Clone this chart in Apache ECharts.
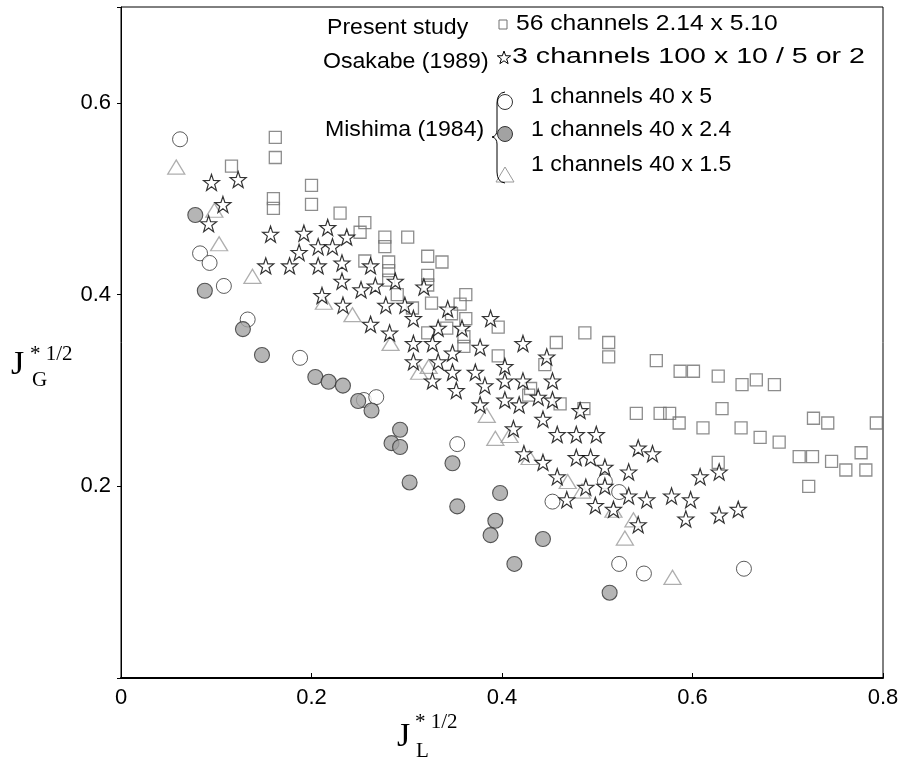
<!DOCTYPE html>
<html>
<head>
<meta charset="utf-8">
<script src="https://cdn.jsdelivr.net/npm/echarts@6/dist/echarts.min.js"></script>
<style>
html, body { margin: 0; padding: 0; background: #fff; }
#chart { width: 915px; height: 767px; }
</style>
</head>
<body>
<div id="chart"></div>
<script>
// [J_L*1/2, J_G*1/2] pairs

// present study, 56 channels 2.14 x 5.10 (squares)
var presentStudy = [
    [0.116, 0.534], [0.162, 0.564], [0.162, 0.543], [0.160, 0.500], [0.160, 0.490],
    [0.200, 0.514], [0.200, 0.494], [0.230, 0.485], [0.256, 0.475], [0.251, 0.465],
    [0.277, 0.460], [0.277, 0.450], [0.301, 0.460], [0.256, 0.435], [0.281, 0.434],
    [0.281, 0.425], [0.281, 0.415], [0.322, 0.440], [0.337, 0.434], [0.322, 0.420],
    [0.322, 0.410], [0.290, 0.400], [0.306, 0.386], [0.326, 0.391], [0.362, 0.400],
    [0.356, 0.390], [0.347, 0.380], [0.362, 0.375], [0.396, 0.366], [0.322, 0.360],
    [0.342, 0.365], [0.360, 0.356], [0.360, 0.346], [0.396, 0.336], [0.445, 0.327],
    [0.430, 0.302], [0.428, 0.295], [0.487, 0.360], [0.457, 0.350], [0.512, 0.350],
    [0.512, 0.335], [0.562, 0.331], [0.587, 0.320], [0.601, 0.320], [0.627, 0.315],
    [0.652, 0.306], [0.667, 0.311], [0.686, 0.306], [0.461, 0.286], [0.486, 0.281],
    [0.541, 0.276], [0.566, 0.276], [0.576, 0.276], [0.586, 0.266], [0.611, 0.261],
    [0.631, 0.281], [0.651, 0.261], [0.671, 0.251], [0.691, 0.246], [0.727, 0.271],
    [0.742, 0.266], [0.793, 0.266], [0.712, 0.231], [0.726, 0.231], [0.746, 0.226],
    [0.777, 0.235], [0.761, 0.217], [0.782, 0.217], [0.722, 0.200], [0.627, 0.225]
];

// Osakabe (1989), 3 channels 100 x 10 / 5 or 2 (stars)
var osakabe = [
    [0.095, 0.517], [0.123, 0.520], [0.107, 0.494], [0.092, 0.474], [0.157, 0.463],
    [0.192, 0.464], [0.217, 0.470], [0.237, 0.460], [0.187, 0.444], [0.207, 0.450],
    [0.222, 0.450], [0.152, 0.430], [0.177, 0.430], [0.207, 0.430], [0.232, 0.433],
    [0.232, 0.414], [0.211, 0.399], [0.233, 0.389], [0.262, 0.430], [0.252, 0.405],
    [0.267, 0.409], [0.288, 0.414], [0.318, 0.408], [0.278, 0.389], [0.298, 0.389],
    [0.262, 0.369], [0.307, 0.375], [0.343, 0.385], [0.282, 0.360], [0.333, 0.365],
    [0.358, 0.365], [0.388, 0.375], [0.307, 0.349], [0.327, 0.349], [0.348, 0.339],
    [0.377, 0.345], [0.422, 0.349], [0.307, 0.330], [0.333, 0.330], [0.348, 0.319],
    [0.372, 0.319], [0.403, 0.325], [0.447, 0.335], [0.327, 0.310], [0.352, 0.300],
    [0.382, 0.305], [0.403, 0.310], [0.422, 0.310], [0.377, 0.285], [0.403, 0.290],
    [0.418, 0.285], [0.438, 0.293], [0.443, 0.270], [0.412, 0.260], [0.453, 0.310],
    [0.453, 0.290], [0.482, 0.279], [0.458, 0.254], [0.478, 0.254], [0.499, 0.254],
    [0.423, 0.234], [0.443, 0.225], [0.478, 0.230], [0.493, 0.230], [0.543, 0.240],
    [0.558, 0.234], [0.508, 0.220], [0.533, 0.215], [0.458, 0.210], [0.488, 0.199],
    [0.508, 0.200], [0.608, 0.210], [0.628, 0.215], [0.468, 0.186], [0.533, 0.190],
    [0.552, 0.186], [0.578, 0.190], [0.598, 0.186], [0.498, 0.180], [0.517, 0.176],
    [0.543, 0.160], [0.593, 0.166], [0.628, 0.170], [0.648, 0.176]
];

// Mishima (1984), 1 channel 40 x 5 (open circles)
var mishima5 = [
    [0.062, 0.562], [0.083, 0.443], [0.093, 0.433], [0.108, 0.409], [0.133, 0.374],
    [0.188, 0.334], [0.255, 0.290], [0.268, 0.293], [0.353, 0.244], [0.453, 0.184],
    [0.508, 0.205], [0.523, 0.194], [0.523, 0.119], [0.549, 0.109], [0.654, 0.114]
];

// Mishima (1984), 1 channel 40 x 2.4 (grey circles)
var mishima24 = [
    [0.078, 0.483], [0.088, 0.404], [0.128, 0.364], [0.148, 0.337], [0.204, 0.314],
    [0.218, 0.309], [0.233, 0.305], [0.249, 0.289], [0.263, 0.279], [0.293, 0.259],
    [0.284, 0.245], [0.293, 0.241], [0.303, 0.204], [0.348, 0.224], [0.353, 0.179],
    [0.398, 0.193], [0.393, 0.164], [0.388, 0.149], [0.413, 0.119], [0.443, 0.145],
    [0.513, 0.089]
];

// Mishima (1984), 1 channel 40 x 1.5 (triangles)
var mishima15 = [
    [0.058, 0.533], [0.098, 0.488], [0.103, 0.453], [0.138, 0.419], [0.213, 0.392],
    [0.243, 0.379], [0.283, 0.349], [0.313, 0.319], [0.323, 0.325], [0.384, 0.274],
    [0.393, 0.250], [0.408, 0.253], [0.429, 0.230], [0.469, 0.205], [0.484, 0.195],
    [0.517, 0.175], [0.538, 0.165], [0.529, 0.146], [0.579, 0.105]
];

var xLabels = [0, 0.2, 0.4, 0.6, 0.8];
var yLabels = [0.2, 0.4, 0.6];

var groupNames = ['Present study', 'Osakabe (1989)', 'Mishima (1984)'];
var legendNames = [
    '56 channels 2.14 x 5.10',
    '3 channels 100 x 10 / 5 or 2',
    '1 channels 40 x 5',
    '1 channels 40 x 2.4',
    '1 channels 40 x 1.5'
];

var starPath = 'path://M0,-10L2.35,-3.24L9.51,-3.09L3.8,1.24L5.88,8.09L0,4L-5.88,8.09L-3.8,1.24L-9.51,-3.09L-2.35,-3.24Z';

function starPoints(cx, cy, R) {
    var pts = [];
    for (var i = 0; i < 10; i++) {
        var r = i % 2 === 0 ? R : R * 0.4;
        var a = -Math.PI / 2 + i * Math.PI / 5;
        pts.push([cx + r * Math.cos(a), cy + r * Math.sin(a)]);
    }
    return pts;
}

function legendText(x, y, text, sx) {
    return {
        type: 'text', x: x, y: y, scaleX: sx || 1,
        style: { text: text, font: '22px "Liberation Sans"', fill: '#000', verticalAlign: 'middle' }
    };
}

var chart = echarts.init(document.getElementById('chart'), null, { renderer: 'canvas' });

var titleFont = '34px "Liberation Serif"';
var supFont = '21px "Liberation Serif"';

var option = {
    backgroundColor: '#fff',
    animation: false,
    grid: {
        left: 121, top: 7, width: 762, height: 671,
        show: true, borderColor: '#000', borderWidth: 1
    },
    xAxis: {
        type: 'value',
        min: 0, max: 0.8, interval: 0.2,
        splitLine: { show: false },
        axisLine: { lineStyle: { color: '#000', width: 2 } },
        axisTick: { inside: true, length: 5, lineStyle: { color: '#000' } },
        axisLabel: {
            margin: 9,
            fontFamily: 'Liberation Sans', fontSize: 22, color: '#000',
            formatter: function (v) {
                var r = Math.round(v * 10) / 10;
                return xLabels.indexOf(r) >= 0 ? String(r) : '';
            }
        }
    },
    yAxis: {
        type: 'value',
        min: 0, max: 0.7, interval: 0.2,
        splitLine: { show: false },
        axisLine: { lineStyle: { color: '#000', width: 1 } },
        axisTick: {
            length: 4, lineStyle: { color: '#000' },
            interval: function (i, v) { return v < 0.65; }
        },
        axisLabel: {
            margin: 10,
            fontFamily: 'Liberation Sans', fontSize: 22, color: '#000',
            formatter: function (v) {
                var r = Math.round(v * 10) / 10;
                return yLabels.indexOf(r) >= 0 ? String(r) : '';
            }
        }
    },
    series: [
        {
            name: legendNames[0], type: 'scatter', data: presentStudy,
            symbol: 'rect', symbolSize: 12,
            itemStyle: { color: 'rgba(0,0,0,0)', borderColor: '#707070', borderWidth: 1.3 }
        },
        {
            name: legendNames[4], type: 'scatter', data: mishima15,
            symbol: 'triangle', symbolSize: [17, 14],
            itemStyle: { color: 'rgba(0,0,0,0)', borderColor: '#9a9a9a', borderWidth: 1.3 }
        },
        {
            name: legendNames[2], type: 'scatter', data: mishima5,
            symbol: 'circle', symbolSize: 15,
            itemStyle: { color: '#fff', borderColor: '#333', borderWidth: 1 }
        },
        {
            name: legendNames[3], type: 'scatter', data: mishima24,
            symbol: 'circle', symbolSize: 15,
            itemStyle: { color: '#a2a2a2', borderColor: '#333', borderWidth: 1.1 }
        },
        {
            name: legendNames[1], type: 'scatter', data: osakabe,
            symbol: starPath, symbolSize: 16,
            itemStyle: { color: '#fff', borderColor: '#000', borderWidth: 1.2 }
        }
    ],
    graphic: [
        // group labels
        legendText(327, 28, groupNames[0], 1.05),
        legendText(323, 62, groupNames[1], 1.05),
        legendText(325, 130, groupNames[2], 1.05),
        // legend symbols
        { type: 'rect', shape: { x: 499, y: 20, width: 8, height: 9 }, style: { fill: 'none', stroke: '#707070', lineWidth: 1 } },
        { type: 'polygon', shape: { points: starPoints(504, 58, 7) }, style: { fill: '#fff', stroke: '#000', lineWidth: 1 } },
        { type: 'circle', shape: { cx: 505, cy: 102, r: 7.5 }, style: { fill: '#fff', stroke: '#333', lineWidth: 1 } },
        { type: 'circle', shape: { cx: 505, cy: 134, r: 7.5 }, style: { fill: '#a2a2a2', stroke: '#333', lineWidth: 1 } },
        { type: 'polygon', shape: { points: [[505, 167], [514, 182], [496, 182]] }, style: { fill: 'none', stroke: '#9a9a9a', lineWidth: 1 } },
        // legend texts
        legendText(516, 24, legendNames[0], 1.12),
        legendText(512, 57, legendNames[1], 1.3),
        legendText(531, 97, legendNames[2], 1.05),
        legendText(531, 130, legendNames[3], 1.05),
        legendText(531, 165, legendNames[4], 1.05),
        // brace
        { type: 'bezierCurve', shape: { x1: 505, y1: 92, cpx1: 497, cpy1: 93, x2: 497, y2: 103 }, style: { stroke: '#000', lineWidth: 1, fill: 'none' } },
        { type: 'line', shape: { x1: 497, y1: 103, x2: 497, y2: 130 }, style: { stroke: '#000', lineWidth: 1 } },
        { type: 'bezierCurve', shape: { x1: 497, y1: 130, cpx1: 497, cpy1: 136, x2: 492, y2: 137 }, style: { stroke: '#000', lineWidth: 1, fill: 'none' } },
        { type: 'bezierCurve', shape: { x1: 492, y1: 137, cpx1: 497, cpy1: 138, x2: 497, y2: 144 }, style: { stroke: '#000', lineWidth: 1, fill: 'none' } },
        { type: 'line', shape: { x1: 497, y1: 144, x2: 497, y2: 172 }, style: { stroke: '#000', lineWidth: 1 } },
        { type: 'bezierCurve', shape: { x1: 497, y1: 172, cpx1: 497, cpy1: 182, x2: 505, y2: 183 }, style: { stroke: '#000', lineWidth: 1, fill: 'none' } },
        // y axis title  J*1/2 with subscript G
        { type: 'text', x: 11, y: 348, style: { text: 'J', font: titleFont, fill: '#000' } },
        { type: 'text', x: 30, y: 344, style: { text: '* 1/2', font: supFont, fill: '#000' } },
        { type: 'text', x: 32, y: 370, style: { text: 'G', font: supFont, fill: '#000' } },
        // x axis title  J*1/2 with subscript L
        { type: 'text', x: 397, y: 720, style: { text: 'J', font: titleFont, fill: '#000' } },
        { type: 'text', x: 415, y: 712, style: { text: '* 1/2', font: supFont, fill: '#000' } },
        { type: 'text', x: 416, y: 741, style: { text: 'L', font: supFont, fill: '#000' } }
    ]
};

chart.setOption(option);
</script>
</body>
</html>
